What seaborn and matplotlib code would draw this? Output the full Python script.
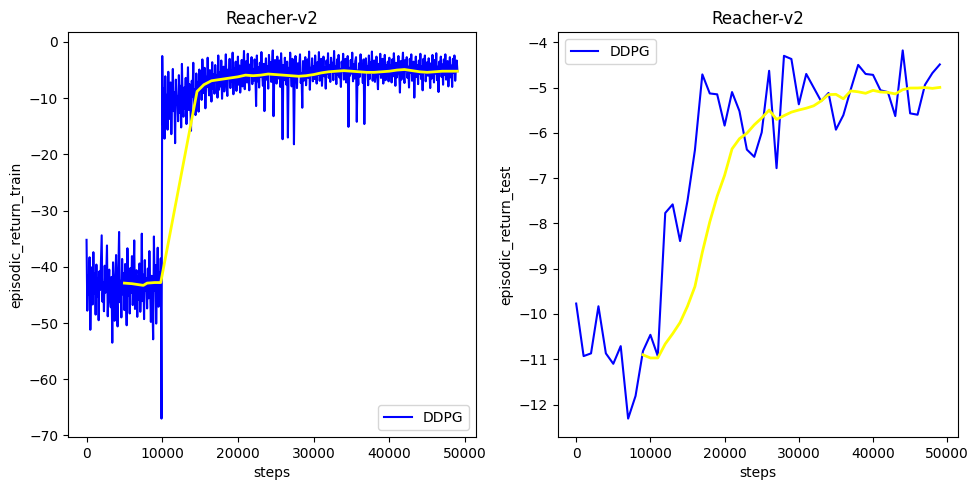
import numpy as np
import pandas as pd
import matplotlib
matplotlib.use("Agg")
import matplotlib.pyplot as plt
import seaborn as sns

# ---------------- data ----------------
# training episodic returns, one value every 100 steps (0 .. 49000)
train_returns = [
    -35.2, -47.8, -41.5, -44.9, -38.3, -51.2, -43.6, -40.1, -46.7, -37.4,
    -44.8, -41.2, -48.5, -39.6, -45.3, -42.0, -49.5, -40.8, -44.1, -38.9,
    -34.4, -46.2, -42.7, -47.9, -39.8, -44.6, -41.3, -36.2, -48.8, -43.1,
    -40.5, -45.7, -47.2, -41.8, -53.5, -39.2, -44.4, -49.6, -42.3, -37.9,
    -45.5, -50.6, -40.7, -33.8, -46.3, -42.5, -49.0, -38.6, -44.9, -41.1,
    -47.7, -39.5, -43.8, -50.4, -36.7, -45.2, -41.9, -48.3, -40.2, -44.6,
    -38.1, -46.8, -42.4, -35.3, -47.5, -43.2, -40.6, -48.9, -41.7, -45.9,
    -39.4, -48.0, -43.7, -34.1, -46.1, -41.4, -49.3, -38.8, -44.3, -42.0,
    -47.4, -40.3, -45.6, -37.2, -43.9, -49.8, -41.6, -46.4, -52.9, -34.6,
    -44.2, -39.7, -50.1, -42.8, -36.6, -47.1, -41.0, -45.3, -38.5, -67.0,
    -2.5, -14.8, -8.3, -17.2, -6.1, -12.9, -9.4, -15.6, -5.3, -11.8,
    -13.7, -7.2, -16.4, -10.1, -4.8, -12.3, -8.9, -18.0, -6.7, -11.2,
    -9.6, -14.1, -5.9, -12.6, -7.8, -15.2, -3.9, -10.7, -13.3, -8.1,
    -11.9, -6.4, -14.6, -9.0, -4.5, -12.1, -7.5, -10.4, -15.8, -6.9,
    -9.8, -3.7, -11.5, -8.4, -13.0, -5.6, -10.2, -7.1, -12.4, -4.9,
    -8.6, -5.2, -10.3, -3.1, -7.4, -9.1, -4.6, -11.8, -6.2, -8.0,
    -2.8, -7.7, -9.5, -5.0, -6.8, -10.6, -3.6, -8.3, -5.7, -9.2,
    -4.1, -7.1, -6.0, -9.9, -2.4, -8.5, -5.4, -7.9, -3.3, -10.1,
    -6.5, -4.4, -8.8, -5.8, -2.2, -7.3, -9.6, -4.9, -6.6, -3.0,
    -8.2, -5.1, -7.0, -1.9, -9.3, -4.7, -6.3, -3.5, -8.7, -5.5,
    -2.6, -7.6, -4.2, -9.0, -6.1, -3.2, -7.9, -5.3, -1.6, -8.4,
    -5.7, -3.4, -7.2, -2.1, -6.4, -8.6, -4.0, -5.9, -2.7, -7.5,
    -4.8, -6.9, -3.1, -5.2, -11.4, -2.4, -7.0, -4.5, -8.1, -3.7,
    -6.2, -1.8, -5.6, -7.8, -3.9, -12.3, -5.0, -2.9, -6.7, -4.3,
    -8.3, -2.3, -5.4, -3.6, -7.1, -4.7, -1.5, -13.2, -6.0, -3.2,
    -5.8, -7.4, -2.6, -4.9, -6.5, -3.3, -8.0, -2.0, -5.1, -17.3,
    -4.1, -6.8, -2.8, -5.5, -7.6, -3.5, -17.0, -4.6, -6.2, -1.9,
    -5.3, -7.9, -3.0, -4.4, -18.2, -6.6, -2.5, -5.0, -8.2, -3.8,
    -6.0, -4.2, -2.2, -7.3, -5.6, -11.7, -3.4, -6.9, -4.0, -2.7,
    -7.7, -5.2, -3.1, -6.4, -1.7, -8.5, -4.6, -5.9, -2.9, -7.0,
    -4.3, -6.6, -2.4, -5.1, -7.4, -3.6, -5.8, -1.8, -6.9, -4.0,
    -3.0, -7.8, -5.3, -2.6, -6.1, -4.5, -8.3, -3.3, -5.7, -2.0,
    -6.4, -4.1, -7.1, -2.8, -5.0, -3.7, -6.8, -1.6, -5.5, -4.4,
    -7.5, -3.1, -5.9, -2.3, -6.3, -4.8, -8.0, -3.5, -5.2, -2.1,
    -6.7, -4.2, -3.0, -7.2, -5.4, -2.5, -15.1, -4.6, -6.0, -3.2,
    -5.6, -1.9, -7.0, -4.0, -6.5, -3.4, -2.7, -14.2, -5.1, -7.6,
    -3.8, -6.2, -2.2, -5.3, -4.7, -7.3, -3.1, -14.6, -6.1, -2.9,
    -5.0, -4.3, -7.7, -2.4, -6.6, -3.6, -5.5, -1.7, -6.9, -4.5,
    -3.3, -7.1, -5.2, -2.6, -6.0, -8.4, -3.9, -5.7, -2.1, -6.4,
    -4.4, -3.0, -7.4, -5.4, -2.3, -6.8, -4.1, -5.9, -3.5, -7.0,
    -2.8, -5.6, -4.2, -7.2, -3.1, -6.1, -2.0, -5.0, -7.8, -3.7,
    -6.3, -4.6, -2.5, -5.3, -9.0, -3.4, -6.7, -4.0, -1.9, -5.8,
    -7.3, -3.2, -5.1, -2.7, -6.4, -4.4, -8.1, -3.0, -5.5, -2.2,
    -6.9, -4.8, -3.5, -9.9, -5.2, -2.6, -6.2, -4.1, -7.5, -3.3,
    -5.7, -2.1, -6.6, -4.3, -8.6, -3.0, -5.4, -2.4, -7.0, -4.7,
    -3.6, -6.0, -2.9, -5.1, -8.2, -3.8, -6.5, -2.3, -4.9, -7.2,
    -3.2, -5.6, -2.0, -6.8, -4.4, -8.9, -3.5, -5.3, -2.6, -6.2,
    -4.0, -7.6, -3.1, -5.8, -2.2, -6.7, -4.5, -3.4, -7.9, -5.0,
    -2.7, -6.3, -4.2, -8.0, -3.0, -5.5, -2.4, -6.9, -4.6, -3.3,
    -5.2,
]
train_steps = [100 * i for i in range(len(train_returns))]

# smoothed training curve (yellow)
train_smooth_steps = [5000, 6000, 7000, 7500, 8000, 9000, 9800, 14600, 15500,
                      16500, 18000, 19000, 20000, 21000, 22000, 23000, 24000,
                      25000, 26000, 27000, 28000, 29000, 30000, 31000, 32000,
                      33000, 34000, 35000, 36000, 37000, 38000, 39000, 40000,
                      41000, 42000, 43000, 44000, 45000, 46000, 47000, 48000,
                      49000]
train_smooth = [-42.9, -43.0, -43.2, -43.3, -42.9, -42.8, -42.8, -8.8, -7.6,
                -6.9, -6.6, -6.4, -6.2, -5.9, -6.0, -5.9, -5.7,
                -5.8, -5.9, -6.0, -6.1, -6.0, -5.8, -5.5, -5.3,
                -5.2, -5.1, -5.2, -5.3, -5.4, -5.4, -5.3, -5.2,
                -5.0, -4.9, -5.1, -5.3, -5.4, -5.3, -5.2, -5.2,
                -5.2]

# test episodic returns, every 1000 steps
test_steps = [1000 * i for i in range(50)]
test_returns = [-9.77, -10.93, -10.87, -9.83, -10.87, -11.10, -10.71, -12.31, -11.81, -10.82,
                -10.46, -10.93, -7.77, -7.58, -8.39, -7.50, -6.38, -4.71, -5.13, -5.15,
                -5.84, -5.10, -5.52, -6.37, -6.53, -5.99, -4.63, -6.78, -4.30, -4.37,
                -5.37, -4.70, -5.00, -5.30, -5.12, -5.93, -5.61, -5.04, -4.50, -4.70,
                -4.72, -5.06, -5.10, -5.63, -4.18, -5.57, -5.60, -4.94, -4.68, -4.49]
smooth_window = 10

title = "Reacher-v2"
legend_label = "DDPG"

# ---------------- plot ----------------
plt.rcParams['font.family'] = ['DejaVu Sans']
fig, axes = plt.subplots(1, 2, figsize=(9.78, 4.9), dpi=100)

ax = axes[0]
sns.lineplot(x=train_steps, y=train_returns, ax=ax, color='blue', linewidth=1.5,
             label=legend_label, estimator=None)
sns.lineplot(x=train_smooth_steps, y=train_smooth, ax=ax, color='yellow',
             linewidth=2, estimator=None)
ax.set_title(title)
ax.set_xlabel("steps")
ax.set_ylabel("episodic_return_train")
ax.legend(loc='lower right')

ax = axes[1]
test_df = pd.DataFrame({"steps": test_steps, "ret": test_returns})
test_df["smooth"] = test_df["ret"].rolling(smooth_window).mean()
sns.lineplot(data=test_df, x="steps", y="ret", ax=ax, color='blue', linewidth=1.5,
             label=legend_label, estimator=None)
sm = test_df.dropna()
sns.lineplot(data=sm, x="steps", y="smooth", ax=ax, color='yellow', linewidth=2,
             estimator=None)
ax.set_title(title)
ax.set_xlabel("steps")
ax.set_ylabel("episodic_return_test")
ax.legend(loc='upper left')

W, H = 978.0, 490.0
axes[0].set_position([68 / W, 53 / H, 408 / W, 405 / H])
axes[1].set_position([558 / W, 53 / H, 400 / W, 405 / H])
fig.savefig("out.png", dpi=100)
